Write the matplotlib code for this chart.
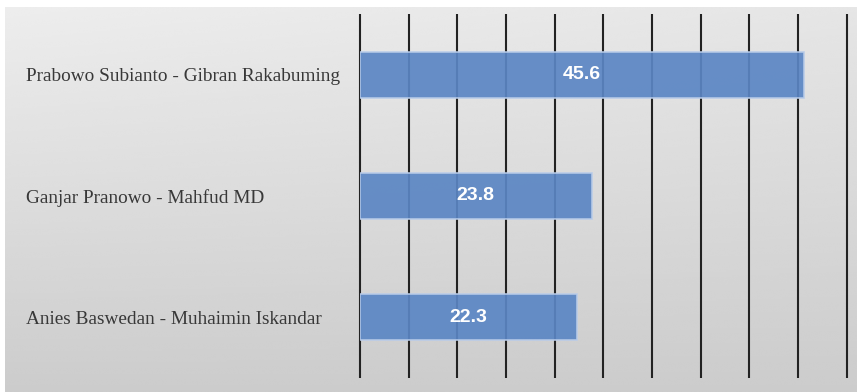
import numpy as np
import matplotlib
matplotlib.use("Agg")
import matplotlib.pyplot as plt

# pasangan calon dan persentase suara
pasangan = ['Prabowo Subianto - Gibran Rakabuming',
            'Ganjar Pranowo - Mahfud MD',
            'Anies Baswedan - Muhaimin Iskandar']
suara = [45.6, 23.8, 22.3]
xticks = np.arange(0, 55, 5)

W, H = 857, 392
fig = plt.figure(figsize=(W / 100, H / 100), dpi=100)
fig.patch.set_facecolor('white')

# gray gradient panel behind the chart
bg = fig.add_axes([5 / W, 0, 1 - 5 / W, 1 - 7 / H], zorder=-1)
yy, xx = np.mgrid[0:1:200j, 0:1:400j]
shade = 0.93 - 0.13 * yy - 0.03 * xx * (1 - yy)
bg.imshow(shade, cmap='gray', vmin=0, vmax=1, aspect='auto',
          extent=[0, 1, 0, 1], origin='upper', interpolation='bicubic')
bg.axis('off')

ax = fig.add_axes([360 / W, 14 / H, (846.7 - 360) / W, (378 - 14) / H])
ax.patch.set_alpha(0)

ypos = np.arange(len(pasangan))
bars = ax.barh(ypos, suara, height=0.38, color='#5b86c4', alpha=0.92,
               edgecolor='#b9cce9', linewidth=1.2, zorder=3)

for b, v in zip(bars, suara):
    ax.text(v / 2, b.get_y() + b.get_height() / 2, f'{v}',
            ha='center', va='center', color='white', fontsize=14,
            fontweight='bold', family='Liberation Sans', zorder=4)

# vertical gridlines, including the one at the right edge
ax.vlines(xticks, -0.5, 2.5, color='#222222', linewidth=1.5, zorder=1,
          clip_on=False)

ax.set_xlim(0, 50)
ax.set_ylim(2.5, -0.5)
ax.set_xticks([])
ax.set_yticks(ypos)
ax.set_yticklabels(pasangan, family='Liberation Serif', fontsize=13.9,
                   color='#383838', ha='left')
ax.tick_params(axis='both', length=0)
ax.tick_params(axis='y', pad=(360 - 26) * 72 / 100)
for s in ax.spines.values():
    s.set_visible(False)

fig.savefig('out.png', dpi=100)
